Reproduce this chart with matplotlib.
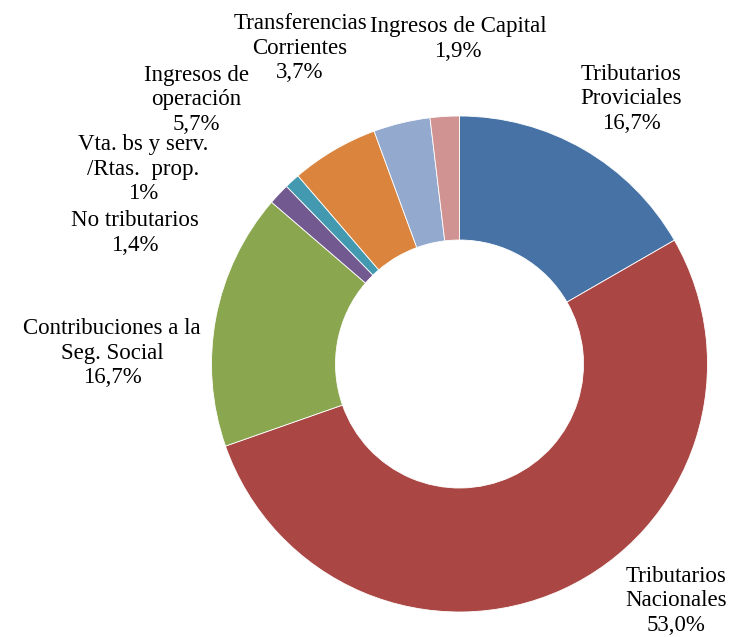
import matplotlib
matplotlib.use("Agg")
import matplotlib.pyplot as plt

# data (clockwise from 12 o'clock)
categories = ["Tributarios\nProviciales", "Tributarios\nNacionales",
              "Contribuciones a la\nSeg. Social", "No tributarios",
              "Vta. bs y serv.\n/Rtas.  prop.", "Ingresos de\noperación",
              "Transferencias\nCorrientes", "Ingresos de Capital"]
values = [16.7, 53.0, 16.7, 1.4, 1.0, 5.7, 3.7, 1.9]
value_labels = ["16,7%", "53,0%", "16,7%", "1,4%", "1%", "5,7%", "3,7%", "1,9%"]

colors = ["#4672A6", "#AA4744", "#8AA64F", "#725990",
          "#4299B0", "#DB843E", "#94A9CE", "#D09392"]

# label centres in pixel coords (x, y from top) - layout only
label_pos = [(631, 99), (676, 601), (112, 353), (135, 233),
             (143, 169), (196, 100), (300, 48), (458, 39)]

W, H = 734, 637
fig = plt.figure(figsize=(W / 100, H / 100), dpi=100)
ax = fig.add_axes([0, 0, 1, 1])
ax.set_xlim(0, W)
ax.set_ylim(0, H)
ax.set_aspect("equal")
ax.axis("off")

cx, cy, r = 459.5, H - 364, 248
ax.pie(values, colors=colors, startangle=90, counterclock=False,
       radius=r, center=(cx, cy),
       wedgeprops=dict(width=r * 0.5, edgecolor="white", linewidth=0.6))
ax.set_xlim(0, W)
ax.set_ylim(0, H)

for cat, lab, (x, y) in zip(categories, value_labels, label_pos):
    ax.text(x, H - y, cat + "\n" + lab, ha="center", va="center",
            family="Liberation Serif", fontsize=16.5, linespacing=1.2,
            color="black")

fig.savefig("out.png", dpi=100)
